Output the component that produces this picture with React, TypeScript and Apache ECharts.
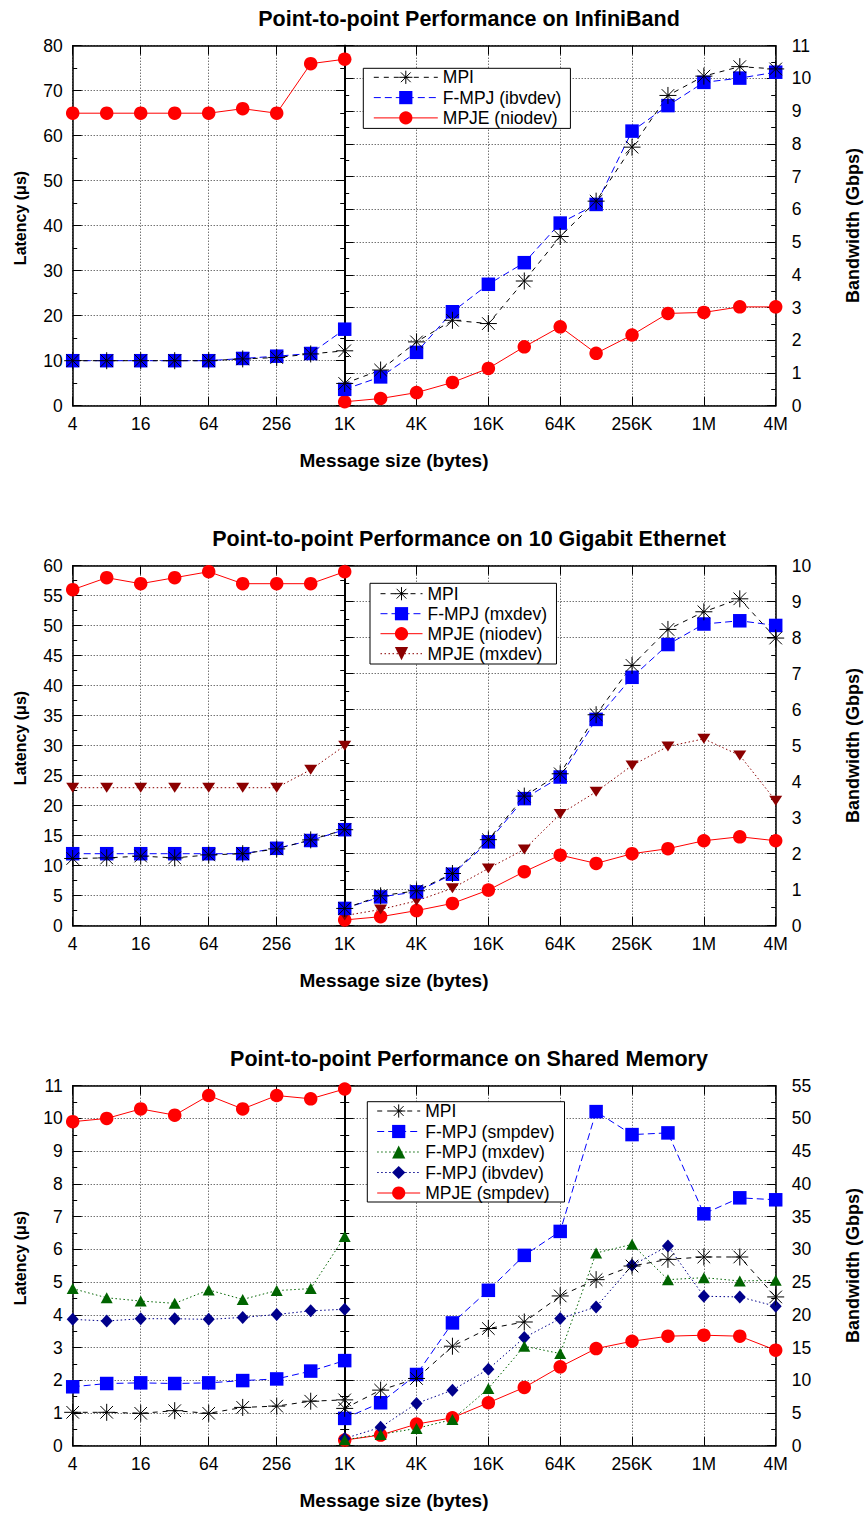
import React, { useEffect, useRef } from 'react';
import * as echarts from 'echarts';

// ---------- categories / tick labels ----------
const sizesLeft = ['4', '8', '16', '32', '64', '128', '256', '512', '1K'];
const sizesRight = ['1K', '2K', '4K', '8K', '16K', '32K', '64K', '128K', '256K', '512K', '1M', '2M', '4M'];
const xTickLabelsLeft = ['4', '16', '64', '256'];
const xTickLabelsRight = ['1K', '4K', '16K', '64K', '256K', '1M', '4M'];

// ---------- Panel 1: InfiniBand ----------
const ibMpiLat = [10, 10, 10, 10, 10, 10.4, 10.7, 11.5, 12.2];
const ibMpiBw = [0.68, 1.09, 1.95, 2.61, 2.51, 3.81, 5.17, 6.25, 7.9, 9.48, 10.07, 10.36, 10.29];
const ibFmpjLat = [10, 10, 10, 10, 10, 10.5, 11, 11.6, 17];
const ibFmpjBw = [0.5, 0.88, 1.63, 2.87, 3.71, 4.37, 5.58, 6.15, 8.39, 9.17, 9.88, 10.01, 10.19];
const ibMpjeLat = [65, 65, 65, 65, 65, 66, 65, 76, 77];
const ibMpjeBw = [0.12, 0.22, 0.4, 0.71, 1.14, 1.8, 2.41, 1.6, 2.16, 2.82, 2.85, 3.02, 3.02];

// ---------- Panel 2: 10 Gigabit Ethernet ----------
const geMpiLat = [11.2, 11.3, 11.6, 11.3, 11.8, 12, 12.8, 14.3, 16];
const geMpiBw = [0.48, 0.83, 0.97, 1.45, 2.39, 3.6, 4.22, 5.86, 7.23, 8.23, 8.72, 9.08, 7.99];
const geFmpjLat = [12, 12, 12, 12, 12, 12, 12.9, 14.2, 16];
const geFmpjBw = [0.48, 0.8, 0.94, 1.43, 2.33, 3.53, 4.13, 5.73, 6.9, 7.81, 8.38, 8.47, 8.34];
const geMpjeNioLat = [56, 58, 57, 58, 59, 57, 57, 57, 59];
const geMpjeNioBw = [0.16, 0.25, 0.42, 0.62, 0.99, 1.5, 1.96, 1.73, 2.0, 2.14, 2.36, 2.47, 2.36];
const geMpjeMxLat = [23, 23, 23, 23, 23, 23, 23, 26, 30];
const geMpjeMxBw = [0.28, 0.45, 0.69, 1.04, 1.59, 2.12, 3.1, 3.72, 4.45, 4.98, 5.19, 4.73, 3.47];

// ---------- Panel 3: Shared Memory ----------
const smMpiLat = [1.02, 1.02, 0.99, 1.07, 0.99, 1.17, 1.21, 1.36, 1.4];
const smMpiBw = [5.7, 8.49, 10.27, 15.2, 17.9, 18.9, 22.88, 25.37, 27.45, 28.47, 28.83, 28.83, 22.73];
const smFmpjSmpLat = [1.8, 1.9, 1.92, 1.9, 1.92, 1.99, 2.04, 2.28, 2.6];
const smFmpjSmpBw = [4.17, 6.56, 10.88, 18.76, 23.74, 29.08, 32.74, 51.04, 47.53, 47.79, 35.43, 37.87, 37.57];
const smFmpjMxLat = [4.8, 4.52, 4.42, 4.35, 4.76, 4.47, 4.74, 4.8, 6.39];
const smFmpjMxBw = [0.9, 1.73, 2.64, 4.0, 8.74, 15.2, 14.08, 29.44, 30.76, 25.37, 25.67, 25.17, 25.27];
const smFmpjIbLat = [3.86, 3.81, 3.88, 3.88, 3.86, 3.92, 4.01, 4.12, 4.17];
const smFmpjIbBw = [1.1, 2.8, 6.46, 8.49, 11.69, 16.52, 19.42, 21.2, 27.55, 30.5, 22.83, 22.73, 21.3];
const smMpjeLat = [9.9, 10.0, 10.29, 10.1, 10.7, 10.29, 10.7, 10.6, 10.9];
const smMpjeBw = [0.86, 1.63, 3.3, 4.27, 6.56, 8.9, 12.05, 14.84, 15.96, 16.73, 16.88, 16.73, 14.59];

const FONT = 'Liberation Sans, Arial, Helvetica, sans-serif';
const STAR = 'path://M0,5L10,5M5,0L5,10M1.3,1.3L8.7,8.7M1.3,8.7L8.7,1.3';

const STYLES: Record<string, any> = {
  mpi: { color: '#000000', dash: [5, 5], symbol: STAR, size: 17, stroke: true },
  blue: { color: '#0000ff', dash: [7, 4], symbol: 'rect', size: 13.5 },
  red: { color: '#ff0000', dash: 'solid', symbol: 'circle', size: 13.5 },
  darkred: { color: '#8b0000', dash: [1.5, 2.5], symbol: 'triangle', size: [13, 10], rotate: 180 },
  green: { color: '#006400', dash: [1.5, 2.5], symbol: 'triangle', size: [12, 11] },
  navy: { color: '#00008b', dash: [1.5, 2.5], symbol: 'diamond', size: [12, 13] },
};

const PANELS = [
  {
    title: 'Point-to-point Performance on InfiniBand',
    latMax: 80, latInt: 10, bwMax: 11, bwInt: 1,
    // drawing order (bottom to top)
    lines: [
      { name: 'MPJE (niodev)', st: 'red', lat: ibMpjeLat, bw: ibMpjeBw },
      { name: 'F-MPJ (ibvdev)', st: 'blue', lat: ibFmpjLat, bw: ibFmpjBw },
      { name: 'MPI', st: 'mpi', lat: ibMpiLat, bw: ibMpiBw },
    ],
    legendOrder: ['MPI', 'F-MPJ (ibvdev)', 'MPJE (niodev)'],
    legend: { left: 363.3, top: 68.3, padding: [0, 9, 1.5, 10], itemWidth: 64, itemGap: 2.3 },
  },
  {
    title: 'Point-to-point Performance on 10 Gigabit Ethernet',
    latMax: 60, latInt: 5, bwMax: 10, bwInt: 1,
    lines: [
      { name: 'MPJE (niodev)', st: 'red', lat: geMpjeNioLat, bw: geMpjeNioBw },
      { name: 'MPJE (mxdev)', st: 'darkred', lat: geMpjeMxLat, bw: geMpjeMxBw },
      { name: 'F-MPJ (mxdev)', st: 'blue', lat: geFmpjLat, bw: geFmpjBw },
      { name: 'MPI', st: 'mpi', lat: geMpiLat, bw: geMpiBw },
    ],
    legendOrder: ['MPI', 'F-MPJ (mxdev)', 'MPJE (niodev)', 'MPJE (mxdev)'],
    legend: { left: 370, top: 583.3, padding: [1.4, 9.4, 1.3, 10], itemWidth: 42, itemGap: 2 },
  },
  {
    title: 'Point-to-point Performance on Shared Memory',
    latMax: 11, latInt: 1, bwMax: 55, bwInt: 5,
    lines: [
      { name: 'MPJE (smpdev)', st: 'red', lat: smMpjeLat, bw: smMpjeBw },
      { name: 'F-MPJ (ibvdev)', st: 'navy', lat: smFmpjIbLat, bw: smFmpjIbBw },
      { name: 'F-MPJ (mxdev)', st: 'green', lat: smFmpjMxLat, bw: smFmpjMxBw },
      { name: 'F-MPJ (smpdev)', st: 'blue', lat: smFmpjSmpLat, bw: smFmpjSmpBw },
      { name: 'MPI', st: 'mpi', lat: smMpiLat, bw: smMpiBw },
    ],
    legendOrder: ['MPI', 'F-MPJ (smpdev)', 'F-MPJ (mxdev)', 'F-MPJ (ibvdev)', 'MPJE (smpdev)'],
    legend: { left: 367.3, top: 1101.7, padding: [0.3, 10, 0, 9.4], itemWidth: 43, itemGap: 2.5 },
  },
];

const PANEL_H = 520;
const X0 = 72.7, XMID = 344.7, X1 = 775.7, TOP = 45.7, H = 360;

function buildOption() {
  const grid: any[] = [], xAxis: any[] = [], yAxis: any[] = [], series: any[] = [];
  const legend: any[] = [], title: any[] = [], graphic: any[] = [];

  const axisLine = { show: true, onZero: false, lineStyle: { color: '#000', width: 1.5 } };
  const innerAxisLine = { show: true, onZero: false, lineStyle: { color: '#000', width: 2 } };
  const tickStyle = { color: '#000', width: 1 };
  const splitLine = { show: true, lineStyle: { color: '#333', width: 1, type: [1, 2] } };
  const labelStyle = { fontFamily: FONT, fontSize: 17.5, color: '#000' };

  PANELS.forEach((p, pi) => {
    const oy = pi * PANEL_H;
    grid.push({ left: X0, top: oy + TOP, width: XMID - X0, height: H, outerBoundsMode: 'none' });
    grid.push({ left: XMID, top: oy + TOP, width: X1 - XMID, height: H, outerBoundsMode: 'none' });
    const gL = pi * 2, gR = pi * 2 + 1;

    // x axes: left bottom, left top, right bottom, right top
    const xCommon = (gridIndex: number, data: string[], position: string) => ({
      type: 'category', gridIndex, data, position, boundaryGap: false,
      axisLine, axisTick: { show: true, inside: true, length: 9, interval: 1, lineStyle: tickStyle },
    });
    xAxis.push({
      ...xCommon(gL, sizesLeft, 'bottom'),
      axisLabel: { ...labelStyle, interval: 1, margin: 9.5, formatter: (v: string) => (xTickLabelsLeft.indexOf(v) >= 0 ? v : '') },
      splitLine: { ...splitLine, interval: 1 },
    });
    xAxis.push({ ...xCommon(gL, sizesLeft, 'top'), axisLabel: { show: false }, splitLine: { show: false } });
    xAxis.push({
      ...xCommon(gR, sizesRight, 'bottom'),
      axisLabel: { ...labelStyle, interval: 1, margin: 9.5, formatter: (v: string) => (xTickLabelsRight.indexOf(v) >= 0 ? v : '') },
      splitLine: { ...splitLine, interval: 1 },
    });
    xAxis.push({ ...xCommon(gR, sizesRight, 'top'), axisLabel: { show: false }, splitLine: { show: false } });

    // y axes: left main, left mirror (at 1K), right main, right mirror (at 1K)
    const yCommon = (gridIndex: number, position: string, max: number, interval: number, line: any) => ({
      type: 'value', gridIndex, position, min: 0, max, interval, axisLine: line,
      axisTick: { show: true, inside: true, length: 9, lineStyle: tickStyle },
      minorTick: { show: true, splitNumber: 2, length: 4.5, lineStyle: tickStyle },
    });
    yAxis.push({ ...yCommon(gL, 'left', p.latMax, p.latInt, axisLine), axisLabel: { ...labelStyle, margin: 10 }, splitLine });
    yAxis.push({ ...yCommon(gL, 'right', p.latMax, p.latInt, innerAxisLine), axisLabel: { show: false }, splitLine: { show: false } });
    yAxis.push({ ...yCommon(gR, 'right', p.bwMax, p.bwInt, axisLine), axisLabel: { ...labelStyle, margin: 16 }, splitLine });
    yAxis.push({ ...yCommon(gR, 'left', p.bwMax, p.bwInt, innerAxisLine), axisLabel: { show: false }, splitLine: { show: false } });

    p.lines.forEach((ln) => {
      const st = STYLES[ln.st];
      const common = {
        type: 'line', name: `${pi}|${ln.name}`,
        symbol: st.symbol, symbolSize: st.size, symbolRotate: st.rotate || 0,
        showAllSymbol: true, clip: false, animation: false,
        lineStyle: { color: st.color, width: 1, type: st.dash },
        itemStyle: st.stroke ? { color: st.color, borderColor: st.color, borderWidth: 1 } : { color: st.color, borderWidth: 0 },
        emphasis: { disabled: true },
      };
      series.push({ ...common, xAxisIndex: pi * 4, yAxisIndex: pi * 4, data: ln.lat });
      series.push({ ...common, xAxisIndex: pi * 4 + 2, yAxisIndex: pi * 4 + 2, data: ln.bw });
    });

    legend.push({
      orient: 'vertical', ...p.legend, itemHeight: 16.5,
      borderColor: '#000', borderWidth: 1, backgroundColor: '#fff', selectedMode: false,
      textStyle: { fontFamily: FONT, fontSize: 17.5, color: '#000', lineHeight: 14 },
      lineStyle: { width: 1 },
      formatter: (n: string) => n.split('|')[1],
      data: p.legendOrder.map((n) => ({
        name: `${pi}|${n}`,
        itemStyle: n === 'MPI' ? { borderWidth: 1 } : { borderWidth: 0 },
      })),
    });

    title.push({
      text: p.title, left: 469, top: oy + 19, padding: 0,
      textAlign: 'center', textVerticalAlign: 'middle',
      textStyle: { fontFamily: FONT, fontSize: 21.5, fontWeight: 'bold', color: '#000' },
    });

    const nameStyle = (text: string, size: number) => ({
      text, fontFamily: FONT, fontSize: size, fontWeight: 'bold', fill: '#000',
      textAlign: 'center', textVerticalAlign: 'middle',
    });
    graphic.push({ type: 'text', x: 394, y: oy + 460.7, style: nameStyle('Message size (bytes)', 19) });
    graphic.push({ type: 'text', x: 20.5, y: oy + 218, rotation: Math.PI / 2, style: nameStyle('Latency (μs)', 16) });
    graphic.push({ type: 'text', x: 853, y: oy + 225.5, rotation: Math.PI / 2, style: nameStyle('Bandwidth (Gbps)', 18) });
  });

  return { animation: false, backgroundColor: '#fff', title, grid, xAxis, yAxis, series, legend, graphic };
}

export default function App() {
  const ref = useRef<HTMLDivElement>(null);
  useEffect(() => {
    if (!ref.current) return;
    const chart = echarts.init(ref.current, undefined, { renderer: 'svg' });
    chart.setOption(buildOption() as any);
    return () => chart.dispose();
  }, []);
  return <div ref={ref} style={{ position: 'absolute', left: 0, top: 0, width: 867, height: 1513 }} />;
}
